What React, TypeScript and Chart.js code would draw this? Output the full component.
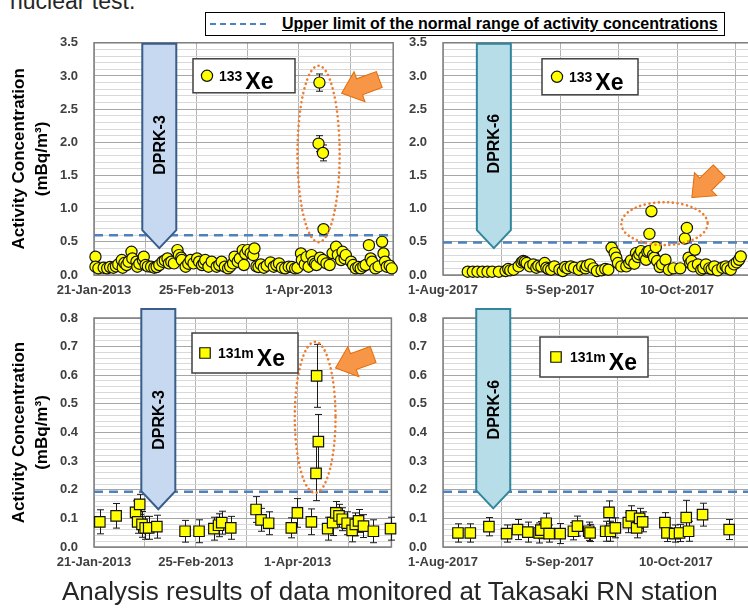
import React, { useEffect, useRef } from 'react';
import { Chart, registerables } from 'chart.js';

Chart.register(...registerables);

const FONT = '"Liberation Sans", Arial, sans-serif';
Chart.defaults.font.family = FONT;

// ---------------- axis labels ----------------
const ticks2013 = ['21-Jan-2013', '25-Feb-2013', '1-Apr-2013'];
const ticks2017 = ['1-Aug-2017', '5-Sep-2017', '10-Oct-2017'];
const labelStepDays = 35;
const gridStepDays = 17.5;
const yTitle = ['Activity Concentration', '(mBq/m³)'];
const legendText = 'Upper limit of the normal range of activity concentrations';
const captionText = 'Analysis results of data monitored at Takasaki RN station';
const headerText = 'nuclear test.';

// ---------------- Xe-133, 2013 (days after 21-Jan-2013, mBq/m3) ----------------
const xe133Days2013 = [
  0.5, 0.5, 1.5, 3.3, 4.5, 5.5, 6.6, 7.5, 8.3, 9.5, 9.8, 10.4, 11.1, 11.8, 12.8, 13.1, 14.5, 14.8, 15.5,
  16.7, 17.0, 17.6, 18.4, 19.5, 20.6, 21.4, 22.3, 23.4, 24.2, 25.1, 25.6, 26.4, 27.3, 28.5, 29.0, 29.8,
  30.0, 31.3, 32.2, 33.0, 34.0, 35.2, 35.9, 36.9, 37.5, 38.0, 39.1, 40.2, 41.9, 42.8, 43.6, 44.7, 45.8,
  46.5, 47.5, 48.0, 49.1, 49.8, 50.8, 51.2, 51.7, 52.5, 53.5, 54.4, 54.8, 55.5, 56.2, 57.0, 58.0, 59.0,
  60.3, 61.4, 62.3, 63.2, 64.2, 65.3, 66.5, 67.6, 68.7, 69.5, 70.7, 71.0, 72.0, 72.6, 73.3, 74.3, 74.9,
  75.5, 76.0, 77.2, 78.2, 79.4, 80.5, 81.5, 82.7, 83.3, 84.4, 84.9, 85.6, 86.0, 87.8, 88.5, 89.4, 90.3,
  91.1, 92.0, 92.8, 93.9, 94.5, 95.0, 96.1, 97.2, 98.4, 98.9, 99.4, 100.0, 101.0, 101.7,
];
const xe133Vals2013 = [
  0.275, 0.125, 0.10, 0.11, 0.10, 0.12, 0.11, 0.13, 0.16, 0.225, 0.11, 0.18, 0.15, 0.20, 0.35, 0.25, 0.20, 0.125, 0.17,
  0.225, 0.275, 0.15, 0.13, 0.125, 0.11, 0.12, 0.15, 0.20, 0.22, 0.25, 0.175, 0.20, 0.175, 0.375, 0.30, 0.26,
  0.225, 0.125, 0.17, 0.225, 0.175, 0.25, 0.20, 0.15, 0.18, 0.225, 0.125, 0.20, 0.125, 0.15, 0.20, 0.125, 0.10,
  0.13, 0.175, 0.275, 0.20, 0.25, 0.375, 0.15, 0.32, 0.375, 0.33, 0.30, 0.40, 0.13, 0.12, 0.16, 0.11, 0.14,
  0.19, 0.125, 0.15, 0.175, 0.11, 0.10, 0.125, 0.12, 0.10, 0.11, 0.325, 0.225, 0.16, 0.27, 0.125, 0.30, 0.20,
  0.17, 0.15, 0.26, 0.225, 0.175, 0.15, 0.33, 0.425, 0.30, 0.225, 0.35, 0.25, 0.30, 0.20, 0.15, 0.10, 0.12,
  0.10, 0.13, 0.15, 0.45, 0.25, 0.20, 0.10, 0.13, 0.50, 0.325, 0.20, 0.125, 0.14, 0.10,
];
const xe133PeakDays2013 = [77.0, 76.7, 78.2, 78.4];
const xe133PeakVals2013 = [2.90, 1.98, 1.84, 0.69];
const xe133PeakErrs2013 = [0.13, 0.12, 0.12, 0.04];

// ---------------- Xe-133, 2017 (days after 1-Aug-2017) ----------------
const xe133Days2017 = [
  7.4, 8.9, 10.3, 11.8, 13.3, 14.7, 16.7, 18.7, 19.5, 20.1, 21.1, 22.6, 23.5, 24.0, 24.5, 25.0, 26.0, 27.0,
  27.9, 28.5, 29.4, 30.4, 30.9, 31.5, 32.3, 33.3, 34.8, 35.8, 36.5, 37.2, 38.2, 39.2, 40.6, 41.6, 42.6, 43.0,
  44.0, 45.0, 46.0, 47.4, 48.5, 49.4, 50.4, 51.3, 51.8, 52.3, 53.3, 54.8, 55.7, 56.2, 57.2, 57.7, 58.2, 58.7,
  59.2, 60.2, 60.7, 61.1, 61.6, 61.7, 62.3, 62.8, 63.1, 63.6, 64.0, 64.8, 65.5, 66.5, 67.5, 68.9, 70.9, 72.3,
  72.9, 73.4, 73.9, 74.3, 74.8, 75.3, 76.2, 77.2, 77.8, 78.6, 79.6, 80.3, 81.1, 82.1, 83.5, 84.5, 85.0, 86.0,
  87.0, 87.8, 88.5, 89.0,
];
const xe133Vals2017 = [
  0.05, 0.05, 0.05, 0.05, 0.05, 0.05, 0.05, 0.06, 0.09, 0.07, 0.08, 0.13, 0.19, 0.21, 0.20, 0.18, 0.13, 0.16,
  0.11, 0.14, 0.13, 0.18, 0.11, 0.09, 0.08, 0.13, 0.08, 0.06, 0.12, 0.10, 0.13, 0.11, 0.08, 0.13, 0.10, 0.14,
  0.16, 0.10, 0.06, 0.07, 0.09, 0.08, 0.41, 0.33, 0.26, 0.18, 0.13, 0.13, 0.18, 0.22, 0.17, 0.33, 0.27, 0.31,
  0.36, 0.28, 0.23, 0.35, 0.36, 0.62, 0.96, 0.30, 0.26, 0.42, 0.21, 0.12, 0.16, 0.23, 0.08, 0.10, 0.10, 0.55,
  0.71, 0.26, 0.18, 0.21, 0.13, 0.38, 0.16, 0.08, 0.10, 0.16, 0.10, 0.09, 0.13, 0.07, 0.11, 0.13, 0.10, 0.08,
  0.16, 0.19, 0.23, 0.28,
];

// ---------------- Xe-131m, 2013 ----------------
const xe131mDays2013 = [
  2.0, 7.6, 14.3, 15.0, 15.7, 16.5, 17.6, 18.8, 21.6, 31.3, 36.1, 41.2, 42.8, 43.9, 47.0, 55.7, 57.4, 60.0,
  67.8, 69.9, 74.7, 80.3, 82.0, 83.1, 84.2, 85.3, 87.0, 88.7, 89.8, 90.9, 92.6, 96.0, 101.9,
];
const xe131mVals2013 = [
  0.088, 0.109, 0.121, 0.088, 0.149, 0.079, 0.067, 0.067, 0.071, 0.055, 0.055, 0.064, 0.076, 0.085, 0.067, 0.131, 0.095, 0.083,
  0.067, 0.119, 0.088, 0.064, 0.085, 0.119, 0.109, 0.097, 0.083, 0.058, 0.079, 0.091, 0.073, 0.055, 0.064,
];
const xe131mErrs2013 = [
  0.042, 0.043, 0.04, 0.04, 0.035, 0.045, 0.04, 0.04, 0.04, 0.038, 0.04, 0.04, 0.04, 0.04, 0.04, 0.045, 0.04, 0.04,
  0.035, 0.05, 0.045, 0.04, 0.045, 0.04, 0.04, 0.04, 0.04, 0.04, 0.04, 0.04, 0.04, 0.04, 0.04,
];
const xe131mPeakDays2013 = [76.5, 77.1, 76.3];
const xe131mPeakVals2013 = [0.598, 0.368, 0.257];
const xe131mPeakErrs2013 = [0.11, 0.095, 0.095];

// ---------------- Xe-131m, 2017 ----------------
const xe131mDays2017 = [
  4.5, 8.2, 13.8, 19.1, 22.4, 25.5, 28.9, 29.4, 31.0, 31.9, 35.2, 39.2, 40.4, 43.8, 44.2, 48.9, 49.9, 50.3,
  51.8, 55.7, 56.6, 58.2, 59.1, 60.0, 66.7, 67.3, 69.6, 71.1, 73.1, 73.8, 78.0, 86.0,
];
const xe131mVals2017 = [
  0.049, 0.049, 0.071, 0.047, 0.061, 0.052, 0.049, 0.059, 0.083, 0.047, 0.047, 0.055, 0.073, 0.055, 0.049, 0.055, 0.121, 0.055,
  0.067, 0.085, 0.109, 0.067, 0.100, 0.088, 0.085, 0.049, 0.047, 0.049, 0.103, 0.055, 0.113, 0.061,
];
const xe131mErrs2017 = [
  0.032, 0.032, 0.032, 0.03, 0.035, 0.035, 0.035, 0.03, 0.035, 0.03, 0.035, 0.03, 0.035, 0.032, 0.03, 0.035, 0.04, 0.035,
  0.035, 0.035, 0.035, 0.035, 0.035, 0.035, 0.035, 0.03, 0.03, 0.03, 0.06, 0.035, 0.04, 0.035,
];

// upper limits of the normal range
const limit133_2013 = 0.60;
const limit133_2017 = 0.49;
const limit131m_2013 = 0.193;
const limit131m_2017 = 0.193;

// ---------------- panel specifications ----------------
type Highlight = { cx: number; cy: number; rx: number; ry: number; tipDay: number; tipVal: number; angle: number; len: number };
type PanelSpec = {
  key: string;
  left: number; top: number; w: number; h: number;
  padTop: number; padRight: number; yAxisWidth: number;
  xMax: number; yMax: number; yMinor: number; yMajor: number;
  xLabels: string[]; showTitle: boolean;
  days: number[]; vals: number[]; errs: number[];
  marker: 'circle' | 'rect'; radius: number; limit: number;
  test: { name: string; day: number; tip: number; labelAt: number; topOffset: number; fill: string; stroke: string };
  legend: { mass: string; dx: number; dy: number; w: number; h: number; markerDx: number; supDx: number };
  highlight?: Highlight;
};

const zeros = (a: number[]) => a.map(() => 0);

const panels: PanelSpec[] = [
  {
    key: 'p1', left: 0, top: 36, w: 400, h: 269, padTop: 6, padRight: 1, yAxisWidth: 94,
    xMax: 102.2, yMax: 3.5, yMinor: 0.1, yMajor: 0.5, xLabels: ticks2013, showTitle: true,
    days: [...xe133Days2013, ...xe133PeakDays2013],
    vals: [...xe133Vals2013, ...xe133PeakVals2013],
    errs: [...zeros(xe133Days2013), ...xe133PeakErrs2013],
    marker: 'circle', radius: 5.6, limit: limit133_2013,
    test: { name: 'DPRK-3', day: 22.3, tip: 0.405, labelAt: 1.96, topOffset: 1, fill: '#C6D9F1', stroke: '#385D8A' },
    legend: { mass: '133', dx: 99, dy: 16, w: 102, h: 34, markerDx: 14, supDx: 26 },
    highlight: { cx: 76.7, cy: 1.825, rx: 7.2, ry: 1.33, tipDay: 84.6, tipVal: 2.74, angle: 160, len: 40 },
  },
  {
    key: 'p2', left: 400, top: 36, w: 380, h: 269, padTop: 6, padRight: 0, yAxisWidth: 43,
    xMax: 98.7, yMax: 3.5, yMinor: 0.1, yMajor: 0.5, xLabels: ticks2017, showTitle: false,
    days: xe133Days2017, vals: xe133Vals2017, errs: zeros(xe133Days2017),
    marker: 'circle', radius: 5.6, limit: limit133_2017,
    test: { name: 'DPRK-6', day: 15.2, tip: 0.405, labelAt: 1.98, topOffset: 1, fill: '#B7DEE8', stroke: '#31859C' },
    legend: { mass: '133', dx: 99, dy: 16, w: 96, h: 36, markerDx: 15, supDx: 27 },
    highlight: { cx: 66.2, cy: 0.774, rx: 12.9, ry: 0.323, tipDay: 74.4, tipVal: 1.17, angle: 136, len: 38 },
  },
  {
    key: 'p3', left: 0, top: 300, w: 400, h: 277, padTop: 18, padRight: 1, yAxisWidth: 94,
    xMax: 102.2, yMax: 0.8, yMinor: 0.02, yMajor: 0.1, xLabels: ticks2013, showTitle: true,
    days: [...xe131mDays2013, ...xe131mPeakDays2013],
    vals: [...xe131mVals2013, ...xe131mPeakVals2013],
    errs: [...xe131mErrs2013, ...xe131mPeakErrs2013],
    marker: 'rect', radius: 7.4, limit: limit131m_2013,
    test: { name: 'DPRK-3', day: 22.1, tip: 0.132, labelAt: 0.444, topOffset: -9, fill: '#C6D9F1', stroke: '#385D8A' },
    legend: { mass: '131m', dx: 98, dy: 15, w: 106, h: 40, markerDx: 13, supDx: 26 },
    highlight: { cx: 76.0, cy: 0.453, rx: 7.0, ry: 0.264, tipDay: 83.0, tipVal: 0.625, angle: 160, len: 40 },
  },
  {
    key: 'p4', left: 400, top: 300, w: 380, h: 277, padTop: 18, padRight: 0, yAxisWidth: 43,
    xMax: 98.7, yMax: 0.8, yMinor: 0.02, yMajor: 0.1, xLabels: ticks2017, showTitle: false,
    days: xe131mDays2017, vals: xe131mVals2017, errs: xe131mErrs2017,
    marker: 'rect', radius: 7.4, limit: limit131m_2017,
    test: { name: 'DPRK-6', day: 15.1, tip: 0.135, labelAt: 0.48, topOffset: -9, fill: '#B7DEE8', stroke: '#31859C' },
    legend: { mass: '131m', dx: 97, dy: 19, w: 108, h: 40, markerDx: 16, supDx: 30 },
  },
];

const isMultiple = (v: number, step: number) => Math.abs(v / step - Math.round(v / step)) < 1e-6;

function drawMarker(ctx: CanvasRenderingContext2D, kind: string, x: number, y: number, r: number) {
  ctx.save();
  ctx.fillStyle = '#FFFF00';
  ctx.strokeStyle = '#111';
  ctx.lineWidth = 1.2;
  ctx.beginPath();
  if (kind === 'circle') ctx.arc(x, y, r, 0, Math.PI * 2);
  else {
    const s = Math.SQRT1_2 * r;
    ctx.rect(x - s, y - s, 2 * s, 2 * s);
  }
  ctx.fill();
  ctx.stroke();
  ctx.restore();
}

function makeOverlay(p: PanelSpec) {
  return {
    id: 'overlay_' + p.key,
    beforeDatasetsDraw(chart: any) {
      const { ctx, chartArea: a } = chart;
      ctx.save();
      ctx.strokeStyle = '#7f7f7f';
      ctx.lineWidth = 1.5;
      ctx.strokeRect(a.left, a.top, a.right - a.left, a.bottom - a.top);
      ctx.restore();
    },
    beforeDatasetDraw(chart: any, args: any) {
      if (args.index !== 0) return;
      const { ctx } = chart;
      const xs = chart.scales.x;
      const ys = chart.scales.y;
      ctx.save();
      ctx.strokeStyle = '#1a1a1a';
      ctx.lineWidth = 1;
      p.errs.forEach((e, i) => {
        if (!e) return;
        const x = Math.round(xs.getPixelForValue(p.days[i])) + 0.5;
        const y1 = ys.getPixelForValue(p.vals[i] + e);
        const y2 = ys.getPixelForValue(p.vals[i] - e);
        ctx.beginPath();
        ctx.moveTo(x, y1); ctx.lineTo(x, y2);
        ctx.moveTo(x - 3.5, y1); ctx.lineTo(x + 3.5, y1);
        ctx.moveTo(x - 3.5, y2); ctx.lineTo(x + 3.5, y2);
        ctx.stroke();
      });
      ctx.restore();
    },
    afterDatasetsDraw(chart: any) {
      const { ctx, chartArea: a } = chart;
      const xs = chart.scales.x;
      const ys = chart.scales.y;

      // test-date arrow
      const t = p.test;
      const xc = xs.getPixelForValue(t.day);
      const yTip = ys.getPixelForValue(t.tip);
      const top = a.top + t.topOffset;
      const hw = 17;
      const head = 18;
      ctx.save();
      ctx.beginPath();
      ctx.moveTo(xc - hw, top);
      ctx.lineTo(xc + hw, top);
      ctx.lineTo(xc + hw, yTip - head);
      ctx.lineTo(xc, yTip);
      ctx.lineTo(xc - hw, yTip - head);
      ctx.closePath();
      ctx.fillStyle = t.fill;
      ctx.fill();
      ctx.strokeStyle = t.stroke;
      ctx.lineWidth = 2;
      ctx.lineJoin = 'miter';
      ctx.stroke();
      ctx.translate(xc, ys.getPixelForValue(t.labelAt));
      ctx.rotate(-Math.PI / 2);
      ctx.fillStyle = '#000';
      ctx.font = `bold 16px ${FONT}`;
      ctx.textAlign = 'center';
      ctx.textBaseline = 'middle';
      ctx.fillText(t.name, 0, 1);
      ctx.restore();

      // highlight ellipse + orange arrow
      if (p.highlight) {
        const h = p.highlight;
        const cx = xs.getPixelForValue(h.cx);
        const cy = ys.getPixelForValue(h.cy);
        const rx = Math.abs(xs.getPixelForValue(h.cx + h.rx) - cx);
        const ry = Math.abs(ys.getPixelForValue(h.cy + h.ry) - cy);
        ctx.save();
        ctx.beginPath();
        ctx.ellipse(cx, cy, rx, ry, 0, 0, Math.PI * 2);
        ctx.strokeStyle = '#ED7D31';
        ctx.lineWidth = 2.6;
        ctx.lineCap = 'round';
        ctx.setLineDash([0.1, 4.6]);
        ctx.stroke();
        ctx.restore();

        const tx = xs.getPixelForValue(h.tipDay);
        const ty = ys.getPixelForValue(h.tipVal);
        const L = h.len;
        const hl = 19;
        const hwid = 16;
        const sw = 8.5;
        ctx.save();
        ctx.translate(tx, ty);
        ctx.rotate((h.angle * Math.PI) / 180);
        ctx.beginPath();
        ctx.moveTo(0, 0);
        ctx.lineTo(-hl, -hwid);
        ctx.lineTo(-hl, -sw);
        ctx.lineTo(-L, -sw);
        ctx.lineTo(-L, sw);
        ctx.lineTo(-hl, sw);
        ctx.lineTo(-hl, hwid);
        ctx.closePath();
        ctx.fillStyle = '#F79646';
        ctx.fill();
        ctx.strokeStyle = '#E46C0A';
        ctx.lineWidth = 1;
        ctx.stroke();
        ctx.restore();
      }

      // isotope legend box
      const lg = p.legend;
      const bx = a.left + lg.dx;
      const by = a.top + lg.dy;
      ctx.save();
      ctx.fillStyle = '#fff';
      ctx.fillRect(bx, by, lg.w, lg.h);
      ctx.strokeStyle = '#404040';
      ctx.lineWidth = 1.5;
      ctx.strokeRect(bx, by, lg.w, lg.h);
      const cyl = by + lg.h / 2;
      drawMarker(ctx, p.marker, bx + lg.markerDx, cyl, p.radius);
      ctx.fillStyle = '#000';
      ctx.textAlign = 'left';
      ctx.textBaseline = 'alphabetic';
      ctx.font = `bold 14px ${FONT}`;
      ctx.fillText(lg.mass, bx + lg.supDx, cyl + 5);
      const wSup = ctx.measureText(lg.mass).width;
      ctx.font = `bold 23px ${FONT}`;
      ctx.fillText('Xe', bx + lg.supDx + wSup + 3, cyl + 13);
      ctx.restore();
    },
  };
}

function buildConfig(p: PanelSpec): any {
  const points = p.days.map((d, i) => ({ x: d, y: p.vals[i] }));
  return {
    type: 'scatter',
    data: {
      datasets: [
        {
          data: points,
          pointStyle: p.marker,
          pointRadius: p.radius,
          backgroundColor: '#FFFF00',
          borderColor: '#111',
          borderWidth: 1.2,
          clip: false,
          order: 0,
        },
        {
          data: [{ x: 0, y: p.limit }, { x: p.xMax, y: p.limit }],
          showLine: true,
          borderColor: '#4F81BD',
          borderWidth: 2.4,
          borderDash: [9, 6],
          pointRadius: 0,
          order: 1,
        },
      ],
    },
    options: {
      responsive: false,
      animation: false,
      devicePixelRatio: 1,
      events: [],
      layout: { padding: { top: p.padTop, right: p.padRight, left: 0, bottom: 0 } },
      plugins: { legend: { display: false }, tooltip: { enabled: false } },
      scales: {
        x: {
          type: 'linear',
          min: 0,
          max: p.xMax,
          afterFit: (s: any) => { s.height = 30; s.paddingLeft = 0; s.paddingRight = 0; },
          border: { display: false },
          grid: { color: '#b3b3b3', lineWidth: 1, drawTicks: false },
          ticks: {
            stepSize: gridStepDays,
            includeBounds: false,
            autoSkip: false,
            maxRotation: 0,
            padding: 8,
            color: '#404040',
            font: { size: 13, weight: 'bold' },
            callback: (v: number) => (isMultiple(v, labelStepDays) ? p.xLabels[Math.round(v / labelStepDays)] ?? '' : ''),
          },
        },
        y: {
          type: 'linear',
          min: 0,
          max: p.yMax,
          afterFit: (s: any) => { s.width = p.yAxisWidth; s.paddingTop = 0; s.paddingBottom = 0; },
          border: { display: false },
          grid: {
            drawTicks: false,
            lineWidth: 1,
            color: (c: any) => (c.tick && isMultiple(c.tick.value, p.yMajor) ? '#a6a6a6' : '#d9d9d9'),
          },
          ticks: {
            stepSize: p.yMinor,
            autoSkip: false,
            padding: 16,
            color: '#404040',
            font: { size: 13, weight: 'bold' },
            callback: (v: number) => (isMultiple(v, p.yMajor) ? Number(v).toFixed(1) : ''),
          },
          title: p.showTitle
            ? {
                display: true,
                text: yTitle,
                color: '#000',
                font: { size: 17, weight: 'bold', lineHeight: 1.4 },
                padding: { top: 7, bottom: 0 },
              }
            : { display: false },
        },
      },
    },
    plugins: [makeOverlay(p)],
  };
}

function Panel({ p }: { p: PanelSpec }) {
  const ref = useRef<HTMLCanvasElement>(null);
  useEffect(() => {
    if (!ref.current) return;
    const chart = new Chart(ref.current, buildConfig(p));
    return () => chart.destroy();
  }, [p]);
  return (
    <canvas
      ref={ref}
      width={p.w}
      height={p.h}
      style={{ position: 'absolute', left: p.left, top: p.top, width: p.w, height: p.h }}
    />
  );
}

export default function App() {
  useEffect(() => {
    document.body.style.margin = '0';
    document.body.style.overflow = 'hidden';
  }, []);
  return (
    <div
      style={{
        position: 'absolute',
        left: 0,
        top: 0,
        width: 748,
        height: 608,
        overflow: 'hidden',
        background: '#fff',
        fontFamily: FONT,
      }}
    >
      <div
        style={{
          position: 'absolute',
          left: 10,
          top: -10,
          fontSize: 23,
          lineHeight: '23px',
          color: '#262626',
          whiteSpace: 'nowrap',
        }}
      >
        {headerText}
      </div>
      {panels.map((p) => (
        <Panel key={p.key} p={p} />
      ))}
      <div
        style={{
          position: 'absolute',
          left: 205,
          top: 12,
          width: 520,
          height: 24,
          boxSizing: 'border-box',
          border: '1px solid #000',
          background: '#fff',
          display: 'flex',
          alignItems: 'center',
          whiteSpace: 'nowrap',
        }}
      >
        <span style={{ display: 'inline-block', width: 56, marginLeft: 4, borderTop: '2.5px dashed #4F81BD' }} />
        <span
          style={{
            marginLeft: 16,
            fontWeight: 'bold',
            fontSize: 16,
            lineHeight: '20px',
            textDecoration: 'underline',
            color: '#000',
          }}
        >
          {legendText}
        </span>
      </div>
      <div
        style={{
          position: 'absolute',
          left: 62,
          top: 578,
          fontSize: 26,
          lineHeight: '26px',
          color: '#262626',
          whiteSpace: 'nowrap',
        }}
      >
        {captionText}
      </div>
    </div>
  );
}
